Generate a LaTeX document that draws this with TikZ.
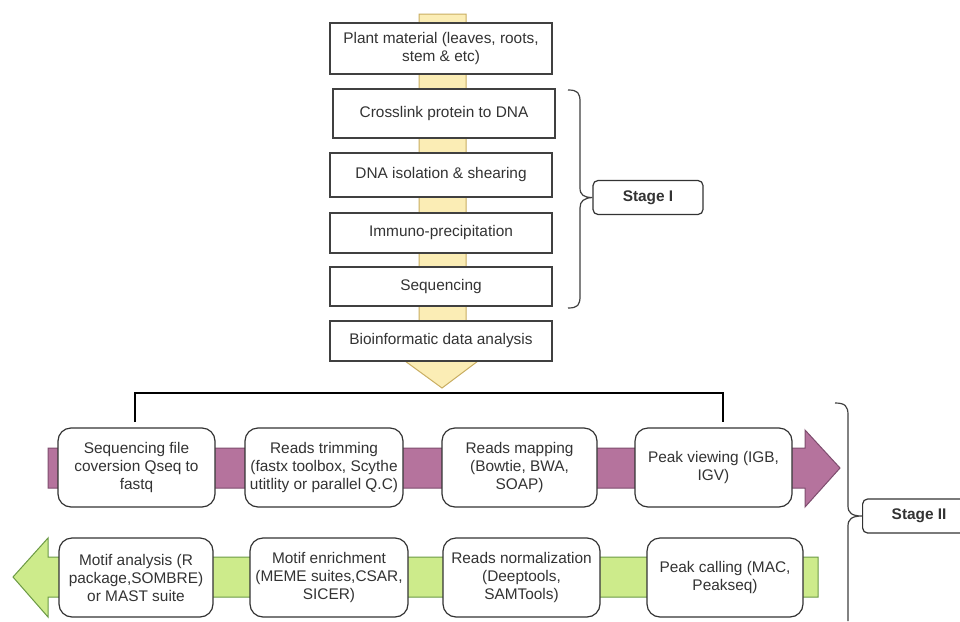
\documentclass[tikz,border=0pt]{standalone}
\usepackage{fontspec}
\setmainfont{Liberation Sans}
\definecolor{yfill}{HTML}{FBEDB5}
\definecolor{ydraw}{HTML}{C9AE62}
\definecolor{pfill}{HTML}{B5739D}
\definecolor{pdraw}{HTML}{7E4D6E}
\definecolor{gfill}{HTML}{CDEB8B}
\definecolor{gdraw}{HTML}{6C9A45}
\definecolor{txt}{HTML}{333333}
\begin{document}
\begin{tikzpicture}[x=1pt,y=-1pt,
  every node/.style={font=\fontsize{15.4}{18}\selectfont, text=txt, align=center, inner sep=0pt},
  sqbox/.style={draw=black!75, line width=1.3pt, fill=white, minimum width=222pt},
  rbox/.style={draw=black!80, line width=1.2pt, fill=white, rounded corners=13pt, minimum height=79pt},
  stagebox/.style={draw=black!80, line width=1.2pt, fill=white, rounded corners=5pt, minimum height=34pt, font=\fontsize{15.4}{18}\selectfont\bfseries},
  brace/.style={draw=black!75, line width=1.2pt},
  link/.style={draw=black, line width=2.4pt}]
\useasboundingbox (0,0) rectangle (960,621);
\clip (0,0) rectangle (960,621);
\fill[white] (0,0) rectangle (960,621);

% yellow flow arrow
\filldraw[fill=yfill, draw=ydraw, line width=1pt]
  (419,14) -- (466,14) -- (466,361) -- (478,361) -- (442,388) -- (405,361) -- (419,361) -- cycle;

% top column boxes
\node[sqbox, minimum height=51pt] (b1) at (441,48.5) {Plant material (leaves, roots,\\ stem \& etc)};
\node[sqbox, minimum height=49pt] (b2) at (444,113.5) {Crosslink protein to DNA};
\node[sqbox, minimum height=44pt] (b3) at (441,175) {DNA isolation \& shearing};
\node[sqbox, minimum height=40pt] (b4) at (441,233) {Immuno-precipitation};
\node[sqbox, minimum height=39pt] (b5) at (441,286.5) {Sequencing};
\node[sqbox, minimum height=40pt] (b6) at (441,341) {Bioinformatic data analysis};

% Stage I
\node[stagebox, minimum width=110pt] (s1) at (648,197.5) {Stage I};
\draw[brace] (568,90) .. controls (578,90) and (580,93) .. (580,102) -- (580,188)
  .. controls (580,195) and (584,197.5) .. (s1.west)
  .. controls (584,198) and (580,201) .. (580,208) -- (580,296)
  .. controls (580,305) and (578,308) .. (568,308);

% purple band (top row)
\filldraw[fill=pfill, draw=pdraw, line width=1pt]
  (48,448) -- (805,448) -- (805,430) -- (840,468) -- (805,507) -- (805,488) -- (48,488) -- cycle;
% green band (bottom row)
\filldraw[fill=gfill, draw=gdraw, line width=1pt]
  (818,557) -- (48,557) -- (48,538) -- (13,577) -- (48,617) -- (48,597) -- (818,597) -- cycle;

% top row boxes
\node[rbox, minimum width=157pt] (ta) at (136.5,467.5) {Sequencing file\\ coversion Qseq to\\ fastq};
\node[rbox, minimum width=158pt] (tb) at (324,467.5) {Reads trimming\\ (fastx toolbox, Scythe\\ utitlity or parallel Q.C)};
\node[rbox, minimum width=155pt] (tc) at (519.5,467.5) {Reads mapping\\ (Bowtie, BWA,\\ SOAP)};
\node[rbox, minimum width=157pt] (td) at (713.5,467.5) {Peak viewing (IGB,\\ IGV)};

% bottom row boxes
\node[rbox, minimum width=154pt] (ba) at (136,577.5) {Motif analysis (R\\ package,SOMBRE)\\ or MAST suite};
\node[rbox, minimum width=158pt] (bb) at (329,577.5) {Motif enrichment\\ (MEME suites,CSAR,\\ SICER)};
\node[rbox, minimum width=157pt] (bc) at (521.5,577.5) {Reads normalization\\ (Deeptools,\\ SAMTools)};
\node[rbox, minimum width=156pt] (bd) at (725,577.5) {Peak calling (MAC,\\ Peakseq)};

% black connector line
\coordinate (l1) at (135,422);
\coordinate (l2) at (135,393);
\coordinate (r2) at (723,393);
\coordinate (r1) at (723,422);
\draw[link] (l1) -- (l2) -- (r2) -- (r1);

% Stage II
\node[stagebox, minimum width=113pt, anchor=west] (s2) at (862,516) {Stage II};
\draw[brace] (835,403) .. controls (845,403) and (848,406) .. (848,415) -- (848,506)
  .. controls (848,513) and (852,516) .. (s2.west)
  .. controls (852,516) and (848,519) .. (848,526) -- (848,621);
\end{tikzpicture}
\end{document}
